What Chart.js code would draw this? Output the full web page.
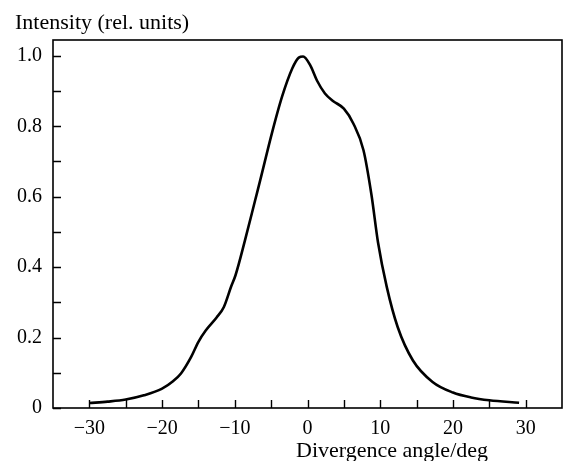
<!DOCTYPE html>
<html lang="en">
<head>
    <meta charset="UTF-8">
    <script src="https://cdn.jsdelivr.net/npm/chart.js"></script>
    <style>
        body { margin: 0; background: #fff; }
        #profileChart { display: block; }
    </style>
</head>
<body>
    <canvas id="profileChart" width="563" height="461"></canvas>
    <script>
        const angles = [-30, -27.5, -25, -22.5, -20, -18.5, -17.4, -16, -15, -14, -12.5, -11.5, -10.5, -9.9,
            -8.6, -7.2, -6.5, -4.9, -3.5, -2.1, -1.2, -0.6, 0.4, 1.3, 2.4, 3.5, 5, 6.3, 7.7, 8.8, 9.7,
            10.9, 12.4, 14.5, 17.2, 20, 22.5, 25, 29.1];
        const intensity = [0.014, 0.018, 0.024, 0.036, 0.055, 0.076, 0.098, 0.145, 0.188, 0.22, 0.257, 0.287, 0.345, 0.377,
            0.476, 0.59, 0.647, 0.78, 0.884, 0.964, 0.995, 0.998, 0.972, 0.93, 0.893, 0.872, 0.85, 0.808, 0.732, 0.605, 0.47,
            0.344, 0.23, 0.135, 0.074, 0.044, 0.03, 0.022, 0.015];

        // Tick positions (labels only on every second one)
        const xTickValues = [-30, -25, -20, -15, -10, -5, 0, 5, 10, 15, 20, 25, 30];
        const yTickValues = [0, 0.1, 0.2, 0.3, 0.4, 0.5, 0.6, 0.7, 0.8, 0.9, 1.0];

        const serif = "'Liberation Serif', 'DejaVu Serif', serif";

        // Frame, inward tick marks and axis titles
        const framePlugin = {
            id: 'frame',
            afterDraw(chart) {
                const ctx = chart.ctx;
                const a = chart.chartArea;
                const xs = chart.scales.x;
                const ys = chart.scales.y;
                ctx.save();
                ctx.strokeStyle = '#000';
                ctx.lineWidth = 1.6;
                ctx.strokeRect(a.left, a.top, a.right - a.left, a.bottom - a.top);

                ctx.lineWidth = 1.4;
                ctx.beginPath();
                xTickValues.forEach(v => {
                    const px = Math.round(xs.getPixelForValue(v)) + 0.5;
                    ctx.moveTo(px, a.bottom);
                    ctx.lineTo(px, a.bottom - 8);
                });
                yTickValues.forEach(v => {
                    const py = Math.round(ys.getPixelForValue(v)) + 0.5;
                    ctx.moveTo(a.left, py);
                    ctx.lineTo(a.left + 8, py);
                });
                ctx.stroke();

                ctx.fillStyle = '#000';
                ctx.font = '22px ' + serif;
                ctx.textBaseline = 'alphabetic';
                ctx.textAlign = 'left';
                ctx.fillText('Intensity (rel. units)', 15, 29);
                ctx.fillText('Divergence angle/deg', 296, 457);
                ctx.restore();
            }
        };

        const profileChart = new Chart(document.getElementById('profileChart'), {
            type: 'line',
            data: {
                datasets: [{
                    data: angles.map((a, i) => ({ x: a, y: intensity[i] })),
                    borderColor: '#000',
                    borderWidth: 2.6,
                    pointRadius: 0,
                    fill: false,
                    cubicInterpolationMode: 'monotone'
                }]
            },
            options: {
                responsive: false,
                animation: false,
                layout: { padding: { top: 40, right: 1, left: 0, bottom: 0 } },
                plugins: {
                    legend: { display: false },
                    tooltip: { enabled: false }
                },
                scales: {
                    x: {
                        type: 'linear',
                        min: -35,
                        max: 35,
                        border: { display: false },
                        grid: { display: false, drawTicks: false },
                        afterBuildTicks: s => { s.ticks = xTickValues.map(v => ({ value: v })); },
                        afterFit: s => { s.height = 53; },
                        ticks: {
                            padding: 9,
                            color: '#000',
                            font: { family: serif, size: 20 },
                            maxRotation: 0,
                            callback: v => (v % 10 === 0 ? (v < 0 ? '\u2212' + Math.abs(v) : String(v)) : '')
                        }
                    },
                    y: {
                        min: 0,
                        max: 1.045,
                        border: { display: false },
                        grid: { display: false, drawTicks: false },
                        afterBuildTicks: s => { s.ticks = yTickValues.map(v => ({ value: v })); },
                        afterFit: s => { s.width = 53; },
                        ticks: {
                            padding: 11,
                            color: '#000',
                            font: { family: serif, size: 20 },
                            callback: v => {
                                const k = Math.round(v * 10);
                                if (k % 2 !== 0) return '';
                                return k === 0 ? '0' : (k / 10).toFixed(1);
                            }
                        }
                    }
                }
            },
            plugins: [framePlugin]
        });
    </script>
</body>
</html>
